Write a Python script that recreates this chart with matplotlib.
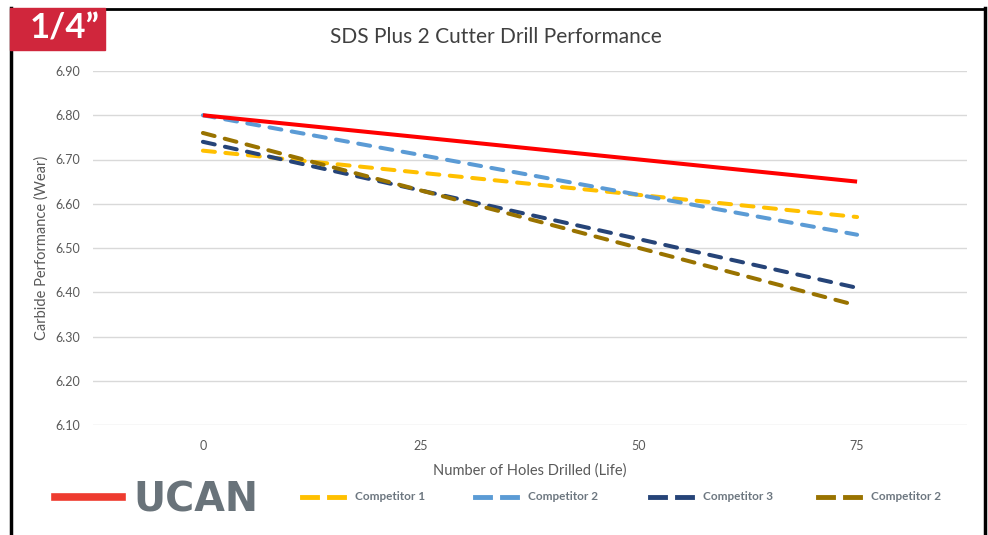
import matplotlib.pyplot as plt
from matplotlib.patches import Rectangle
from matplotlib.lines import Line2D

# Data
holes = [0, 25, 50, 75]
ucan = [6.80, 6.75, 6.70, 6.65]
competitor_1 = [6.72, 6.67, 6.62, 6.57]
competitor_2 = [6.80, 6.71, 6.62, 6.53]
competitor_3 = [6.74, 6.63, 6.52, 6.41]
competitor_2b = [6.76, 6.63, 6.50, 6.37]
y_ticks = [6.10, 6.20, 6.30, 6.40, 6.50, 6.60, 6.70, 6.80, 6.90]

plt.rcParams['font.family'] = ['Lato', 'DejaVu Sans']

W, H = 988, 535
fig = plt.figure(figsize=(W / 100, H / 100), dpi=100)
ax = fig.add_axes([93 / W, 1 - 425 / H, 874 / W, 354 / H])

dash = dict(lw=2.9, dashes=(3.0, 2.6), dash_capstyle='round')
ax.plot(holes, ucan, color='#FF0000', lw=2.9, solid_capstyle='butt', zorder=5)
ax.plot(holes, competitor_1, color='#FFC000', **dash)
ax.plot(holes, competitor_2, color='#5B9BD5', **dash)
ax.plot(holes, competitor_3, color='#264478', **dash)
ax.plot(holes, competitor_2b, color='#997300', **dash)

ax.set_xlim(-12.6, 87.6)
ax.set_ylim(6.10, 6.90)
ax.set_xticks(holes)
ax.set_yticks(y_ticks)
ax.set_yticklabels([f"{v:.2f}" for v in y_ticks])
ax.grid(axis='y', color='#D9D9D9', lw=1)
ax.set_axisbelow(True)
for s in ax.spines.values():
    s.set_visible(False)
ax.tick_params(length=0, labelsize=9, colors='#595959', pad=11)
ax.tick_params(axis='y', pad=9)
ax.set_xlabel("Number of Holes Drilled (Life)", fontsize=10.5, color='#595959', labelpad=8)
ax.set_ylabel("Carbide Performance (Wear)", fontsize=10.5, color='#595959', labelpad=5)

fig.text(496 / W, 1 - 37 / H, "SDS Plus 2 Cutter Drill Performance",
         ha='center', va='center', fontsize=15, color='#404040')

# frame around the chart
fig.add_artist(Line2D([11 / W, 11 / W], [0, 1 - 8 / H], color='black', lw=2.5))
fig.add_artist(Line2D([11 / W, 985 / W], [1 - 9 / H, 1 - 9 / H], color='black', lw=2))
fig.add_artist(Line2D([985 / W, 985 / W], [0, 1 - 8 / H], color='black', lw=2.5))

# size badge
fig.add_artist(Rectangle((10 / W, 1 - 50 / H), 95 / W, 42 / H, color='#D0263C',
                         transform=fig.transFigure, zorder=10))
fig.text(65 / W, 1 - 29 / H, "1/4\u201d", ha='center', va='center', fontsize=25,
         fontweight='bold', color='white', zorder=11)

# legend
ly = 1 - 497 / H
fig.add_artist(Line2D([55 / W, 122 / W], [ly, ly], color='#EE3B2F', lw=5.5))
fig.text(133 / W, ly - 3 / H, "UCAN", ha='left', va='center', fontsize=28.5,
         fontweight='bold', color='#69737A', family='DejaVu Sans')
entries = [("Competitor 1", '#FFC000', 302), ("Competitor 2", '#5B9BD5', 475),
           ("Competitor 3", '#264478', 650), ("Competitor 2", '#997300', 818)]
for label, col, x0 in entries:
    for dx in (0, 27):
        fig.add_artist(Line2D([(x0 + dx) / W, (x0 + dx + 15) / W], [ly, ly], color=col, lw=3.5))
    fig.text((x0 + 53) / W, ly, label, ha='left', va='center', fontsize=8.5,
             fontweight='bold', color='#6D7780')

fig.savefig("out.png", dpi=100)
